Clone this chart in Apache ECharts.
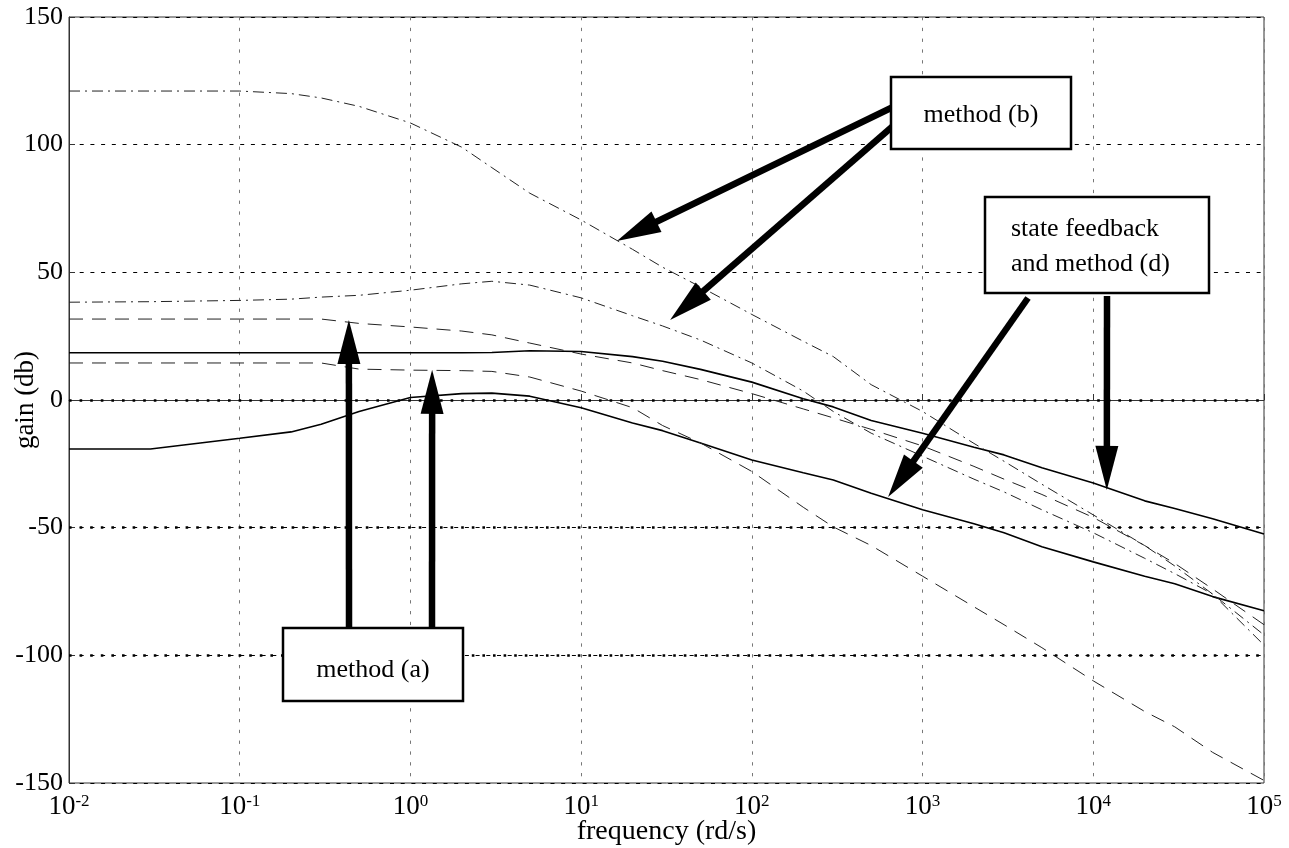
<!DOCTYPE html>
<html>
<head>
<meta charset="utf-8">
<script src="https://cdn.jsdelivr.net/npm/echarts@6/dist/echarts.min.js"></script>
<style>
  html, body { margin: 0; background: #fff; }
  #chart { width: 1289px; height: 848px; }
</style>
</head>
<body>
<div id="chart"></div>
<script>
// frequency points (rd/s) shared by all curves
const freq = [0.01, 0.03, 0.1, 0.2, 0.3, 0.5, 1, 2, 3, 5, 10, 20, 30, 50, 100, 200, 300, 500,
  1e3, 2e3, 3e3, 5e3, 1e4, 2e4, 3e4, 5e4, 1e5];

// state feedback and method (d) - solid
const stateHigh = [18.5, 18.5, 18.5, 18.5, 18.5, 18.5, 18.5, 18.5, 18.6, 19.3, 19, 17, 15.2, 12, 7, 0.5, -2.7,
  -8, -13, -18.5, -21.5, -26.5, -32.5, -39.5, -42.5, -46.5, -52.5];
const stateLow = [-19.2, -19.2, -15, -12.5, -9.5, -4.5, 1, 2.5, 2.7, 1.5, -3, -9, -12, -16.8, -23.5, -28.5, -31.3,
  -36.5, -43, -48.5, -52, -57.5, -63.4, -69, -72, -77, -82.5];

// method (a) - dashed
const methodAHigh = [31.7, 31.7, 31.7, 31.7, 31.7, 30, 28.6, 27, 25.5, 22.3, 18, 14.5, 11.5, 8, 2.5, -3.5, -7,
  -11.5, -18, -26, -31, -37, -46, -57, -64, -74, -88];
const methodALow = [14.5, 14.5, 14.5, 14.5, 14.5, 12.1, 11.7, 11.5, 11.2, 9, 3.5, -3, -10, -16.8, -28, -42, -49.7,
  -57, -69, -81, -88, -97, -110, -122, -128, -138, -149];

// method (b) - dash-dot
const methodBHigh = [121, 121, 121, 120, 118.3, 115, 108.5, 99, 91, 81, 70.5, 59, 52, 44.3, 33.5, 23, 17,
  6, -4.5, -17, -24, -33, -45, -57, -65, -76, -96];
const methodBLow = [38.3, 38.5, 39, 39.5, 40.3, 41, 43, 45.5, 46.5, 45, 40, 33, 29, 23.5, 14.5, 3.5, -4.5,
  -13, -22, -31, -36, -43, -52, -62, -68, -76, -92];

const yTicks = [-150, -100, -50, 0, 50, 100, 150];
const heavyGrid = [0, -50, -100];

const serif = "'Liberation Serif', 'DejaVu Serif', serif";
const pairs = (ys) => freq.map((f, i) => [f, ys[i]]);

const chart = echarts.init(document.getElementById("chart"));

const lineSeries = (data, kind) => {
  const styles = {
    solid: { color: "#000", width: 1.6, type: "solid" },
    dashed: { color: "#222", width: 1, type: [14, 9] },
    dashdot: { color: "#222", width: 1, type: [11, 5, 2, 5] },
  };
  return {
    type: "line",
    data: pairs(data),
    symbol: "none",
    silent: true,
    lineStyle: styles[kind],
    z: 3,
  };
};

const series = [
  lineSeries(stateHigh, "solid"),
  lineSeries(stateLow, "solid"),
  lineSeries(methodAHigh, "dashed"),
  lineSeries(methodALow, "dashed"),
  lineSeries(methodBHigh, "dashdot"),
  lineSeries(methodBLow, "dashdot"),
];

// heavier dotted grid lines at 0, -50, -100
series[0].markLine = {
  silent: true,
  symbol: "none",
  label: { show: false },
  lineStyle: { color: "#000", width: 2.6, type: [2.6, 8] },
  data: heavyGrid.map((v) => ({ yAxis: v })),
  z: 1,
};

chart.setOption({
  animation: false,
  backgroundColor: "#fff",
  grid: {
    left: 69, right: 25, top: 17, bottom: 65,
    containLabel: false,
    outerBoundsMode: "none",
    show: true, borderColor: "#333", borderWidth: 1, backgroundColor: "transparent",
  },
  xAxis: {
    type: "log",
    logBase: 10,
    min: 0.01,
    max: 1e5,
    interval: 1,
    name: "frequency (rd/s)",
    nameLocation: "middle",
    nameGap: 35,
    nameMoveOverlap: false,
    nameTextStyle: { fontFamily: serif, fontSize: 28, color: "#000" },
    axisLine: { lineStyle: { color: "#333" } },
    axisTick: { inside: true, length: 6, lineStyle: { color: "#333" } },
    minorTick: { show: false },
    axisLabel: {
      margin: 10,
      color: "#000",
      formatter: (v) => "{a|10}{b|" + Math.round(Math.log10(v)) + "}",
      rich: {
        a: { fontFamily: serif, fontSize: 27, color: "#000" },
        b: { fontFamily: serif, fontSize: 17, color: "#000", verticalAlign: "top" },
      },
    },
    splitLine: { show: true, lineStyle: { color: "#777", width: 1, type: [3.3, 7.5] } },
  },
  yAxis: {
    type: "value",
    min: yTicks[0],
    max: yTicks[yTicks.length - 1],
    interval: 50,
    name: "gain (db)",
    nameLocation: "middle",
    nameGap: 30,
    nameMoveOverlap: false,
    nameRotate: 90,
    nameTextStyle: { fontFamily: serif, fontSize: 27, color: "#000" },
    axisLine: { show: true, lineStyle: { color: "#333" } },
    axisTick: { show: true, inside: true, length: 6, lineStyle: { color: "#333" } },
    axisLabel: { fontFamily: serif, fontSize: 26, color: "#000", margin: 6 },
    splitLine: { show: true, lineStyle: { color: "#000", width: 1, type: [4, 6.7] } },
  },
  series: series,
});

// annotations: boxes in pixels, arrow tips pinned to data points
const toPx = (pt) => chart.convertToPixel({ gridIndex: 0 }, pt);

const arrow = (tail, tip) => {
  const dx = tip[0] - tail[0], dy = tip[1] - tail[1];
  const len = Math.sqrt(dx * dx + dy * dy);
  const ux = dx / len, uy = dy / len;
  const headLen = 44, headHalf = 11.5;
  const bx = tip[0] - ux * headLen, by = tip[1] - uy * headLen;
  return [
    {
      type: "line", z: 100,
      shape: { x1: tail[0], y1: tail[1], x2: bx + ux * 4, y2: by + uy * 4 },
      style: { stroke: "#000", lineWidth: 6.5 },
    },
    {
      type: "polygon", z: 101,
      shape: { points: [tip, [bx - uy * headHalf, by + ux * headHalf], [bx + uy * headHalf, by - ux * headHalf]] },
      style: { fill: "#000" },
    },
  ];
};

const box = (x, y, w, h, lines, textX, textY, align) => [
  {
    type: "rect", z: 100,
    shape: { x: x, y: y, width: w, height: h },
    style: { fill: "#fff", stroke: "#000", lineWidth: 2.5 },
  },
  {
    type: "text", z: 102,
    x: textX, y: textY,
    style: {
      text: lines.join("\n"),
      font: "26px " + serif,
      fill: "#000",
      align: align,
      verticalAlign: "middle",
      lineHeight: 35,
    },
  },
];

const graphic = [].concat(
  arrow([893, 107], toPx([16.2, 62.3])),
  arrow([893, 126], toPx([33.2, 31.3])),
  arrow([1028, 298], toPx([628, -38])),
  arrow([1107, 296], toPx([12000, -35.2])),
  arrow([349, 632], toPx([0.436, 31.3])),
  arrow([432, 632], toPx([1.34, 11.8])),
  box(891, 77, 180, 72, ["method (b)"], 981, 115, "center"),
  box(985, 197, 224, 96, ["state feedback", "and method (d)"], 1011, 247, "left"),
  box(283, 628, 180, 73, ["method (a)"], 373, 670, "center")
);

chart.setOption({ graphic: graphic });
</script>
</body>
</html>
